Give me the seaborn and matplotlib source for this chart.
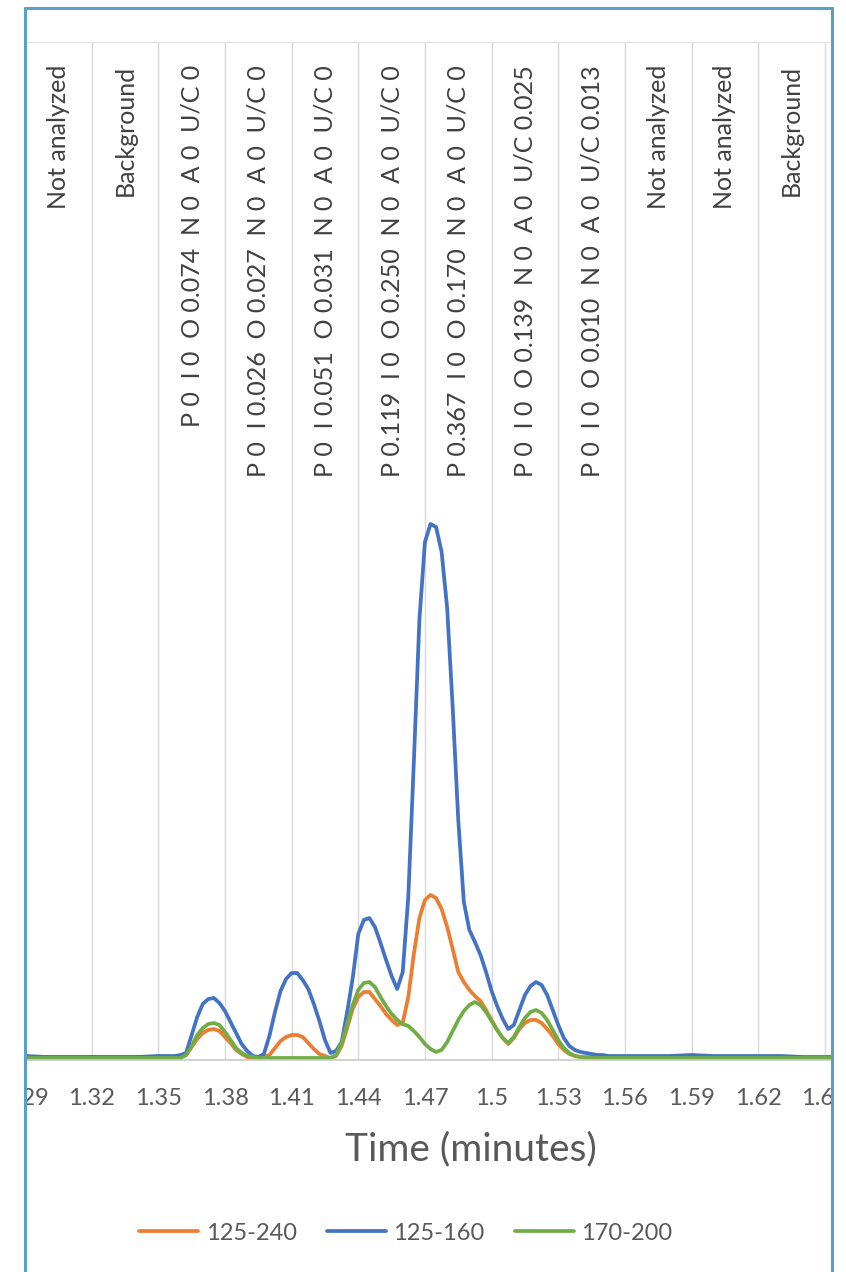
import numpy as np
import pandas as pd
import matplotlib
matplotlib.use('Agg')
import matplotlib.pyplot as plt
import matplotlib.transforms as mtrans
from matplotlib.patches import Rectangle
from matplotlib.lines import Line2D
import seaborn as sns

# retention time (minutes): coarse on the flat ends, fine across the peaks
time_left = [1.29, 1.30, 1.31, 1.32, 1.33, 1.34, 1.35]
time_mid = list(np.round(np.arange(1.355, 1.5601, 0.0025), 4))
time_right = [1.57, 1.58, 1.59, 1.60, 1.61, 1.62, 1.63, 1.64, 1.655]
time = time_left + time_mid + time_right

series_names = ['125-240', '125-160', '170-200']
series_colors = ['#ED7D31', '#4472C4', '#70AD47']

# signal (arbitrary units)
signal_125_240 = ([3, 3, 3, 3, 3, 3, 3] +
                  [3, 3, 3, 5, 13, 21, 27, 30, 31, 29,
                   23, 17, 10, 6, 3, 2, 2, 3, 5, 12,
                   19, 23, 25, 25, 23, 17, 11, 6, 4, 2,
                   4, 14, 32, 51, 63, 68, 68, 61, 54, 46,
                   40, 35, 37, 63, 106, 142, 160, 165, 162, 151,
                   133, 111, 88, 78, 70, 64, 59, 50, 40, 30,
                   22, 16, 22, 31, 37, 40, 40, 37, 31, 24,
                   16, 10, 6, 4, 3, 3, 3, 3, 2, 2,
                   2, 2, 2] +
                  [2, 2, 2, 2, 2, 2, 2, 2, 2])

signal_125_160 = ([4, 3, 3, 3, 3, 3, 4] +
                  [4, 4, 5, 7, 25, 43, 56, 61, 62, 57,
                   49, 38, 27, 16, 9, 4, 3, 6, 24, 48,
                   69, 81, 87, 87, 80, 71, 56, 39, 20, 7,
                   9, 18, 48, 82, 126, 140, 142, 133, 117, 100,
                   84, 71, 88, 163, 298, 440, 518, 536, 533, 508,
                   452, 352, 240, 158, 130, 118, 105, 88, 69, 54,
                   41, 31, 35, 50, 65, 74, 78, 75, 65, 50,
                   35, 22, 14, 10, 8, 7, 6, 5, 5, 4,
                   4, 4, 4] +
                  [4, 4, 5, 4, 4, 4, 4, 3, 3])

signal_170_200 = ([2, 2, 2, 2, 2, 2, 2] +
                  [2, 2, 2, 5, 14, 25, 32, 36, 37, 35,
                   28, 20, 12, 7, 4, 3, 2, 2, 2, 2,
                   2, 2, 2, 2, 2, 2, 2, 2, 2, 2,
                   5, 17, 36, 55, 70, 77, 78, 73, 63, 54,
                   46, 40, 36, 34, 29, 23, 16, 11, 8, 10,
                   18, 29, 40, 49, 55, 58, 55, 48, 39, 30,
                   22, 17, 23, 33, 42, 48, 50, 47, 40, 30,
                   20, 12, 7, 4, 3, 2, 2, 2, 2, 2,
                   2, 2, 2] +
                  [2, 2, 2, 2, 2, 2, 2, 2, 2])

tick_values = [1.29, 1.32, 1.35, 1.38, 1.41, 1.44, 1.47, 1.50, 1.53, 1.56, 1.59, 1.62, 1.65]

band_centers = [1.305, 1.335, 1.365, 1.395, 1.425, 1.455, 1.485, 1.515, 1.545, 1.575, 1.605, 1.635]
band_labels = [
    'Not analyzed',
    'Background',
    'P 0  I 0  O 0.074  N 0  A 0  U/C 0',
    'P 0  I 0.026  O 0.027  N 0  A 0  U/C 0',
    'P 0  I 0.051  O 0.031  N 0  A 0  U/C 0',
    'P 0.119  I 0  O 0.250  N 0  A 0  U/C 0',
    'P 0.367  I 0  O 0.170  N 0  A 0  U/C 0',
    'P 0  I 0  O 0.139  N 0  A 0  U/C 0.025',
    'P 0  I 0  O 0.010  N 0  A 0  U/C 0.013',
    'Not analyzed',
    'Not analyzed',
    'Background',
]

signals = [signal_125_240, signal_125_160, signal_170_200]
df = pd.concat([pd.DataFrame({'time': time, 'signal': s, 'series': n})
                for n, s in zip(series_names, signals)], ignore_index=True)

sns.set_style('white')
plt.rcParams['font.family'] = ['Lato', 'DejaVu Sans']

W, H = 846, 1272
fig = plt.figure(figsize=(W / 100, H / 100), dpi=100)
ax = fig.add_axes([25 / W, 212 / H, 807 / W, 1018 / H])

sns.lineplot(data=df, x='time', y='signal', hue='series', hue_order=series_names,
             palette=series_colors, estimator=None, sort=False, lw=2.7, ax=ax)
for ln in ax.lines:
    ln.set_solid_joinstyle('round')

ax.set_xlim(1.29, 1.6532)
ax.set_ylim(0, 1018)
ax.set_xticks(tick_values)
ax.set_xticklabels([f'{round(t, 2):g}' for t in tick_values])
ax.tick_params(axis='x', length=0, pad=20, labelsize=17, labelcolor='#595959')
ax.set_yticks([])
ax.set_xlabel('')
ax.set_ylabel('')
ax.grid(axis='x', color='#D9D9D9', lw=1)
for side in ['left', 'right']:
    ax.spines[side].set_visible(False)
ax.spines['top'].set_color('#E3E3E3')
ax.spines['bottom'].set_color('#C8C8C8')
ax.spines['bottom'].set_linewidth(1.2)

# rotated annotations at the top of each time band
trans = mtrans.blended_transform_factory(ax.transData, ax.transAxes)
for x, lab in zip(band_centers, band_labels):
    ax.text(x, 1 - 23 / 1018, lab, transform=trans, rotation=90, ha='center', va='top',
            fontsize=18, color='#404040')

handles, labels = ax.get_legend_handles_labels()
ax.get_legend().remove()
fig.legend(handles, labels, loc='center', bbox_to_anchor=(406 / W, 1 - 1233 / H), ncol=3,
           frameon=False, fontsize=17, handlelength=2.5, handletextpad=0.3,
           columnspacing=1.3, labelcolor='#595959')

fig.text(471 / W, 1 - 1149 / H, 'Time (minutes)', ha='center', va='center',
         fontsize=28, color='#595959')

# crop outside the screenshot frame, then the frame itself
fig.add_artist(Rectangle((0, 0), 25 / W, 1, transform=fig.transFigure,
                         facecolor='white', edgecolor='none', zorder=5))
fig.add_artist(Rectangle((832 / W, 0), 14 / W, 1, transform=fig.transFigure,
                         facecolor='white', edgecolor='none', zorder=5))
frame = dict(color='#5B9FC9', lw=2.2, transform=fig.transFigure, zorder=6)
fig.add_artist(Line2D([25 / W, 25 / W], [0, 1 - 8 / H], **frame))
fig.add_artist(Line2D([832 / W, 832 / W], [0, 1 - 8 / H], **frame))
fig.add_artist(Line2D([25 / W, 832 / W], [1 - 8 / H, 1 - 8 / H], **frame))

fig.savefig('out.png', dpi=100, facecolor='white')
